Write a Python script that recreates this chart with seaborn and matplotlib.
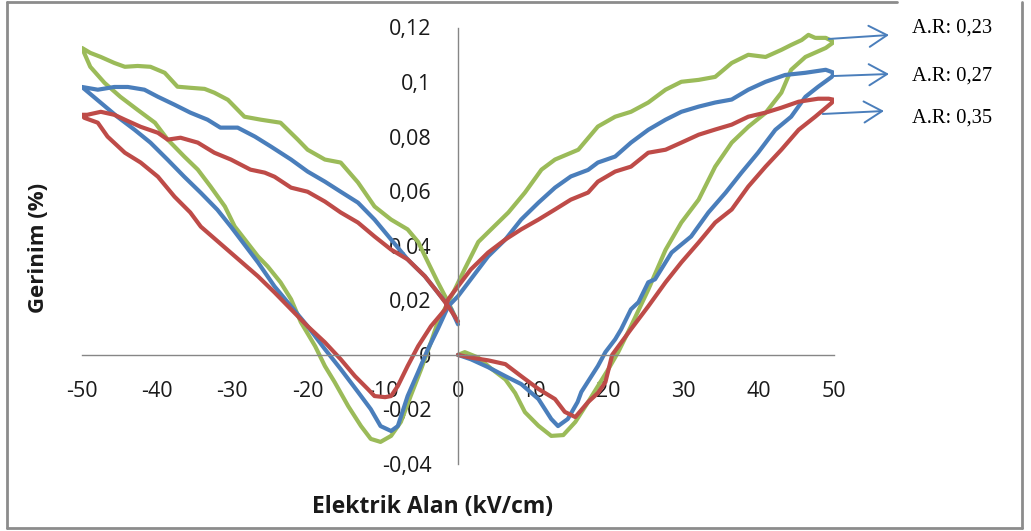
import matplotlib
matplotlib.use("Agg")
import matplotlib.pyplot as plt
from matplotlib.lines import Line2D
import seaborn as sns
import pandas as pd

# ---------------- data (E in kV/cm, strain in %) ----------------
green_E = [0, 0.9, 2.7, 4.4, 6.3, 7.6, 8.9, 10.7, 12.4, 14.0, 15.6, 17.3, 20.0, 21.3, 23.0, 25.3,
           27.6, 29.7, 32.0, 34.2, 36.4, 38.6, 40.9, 43.0, 44.3, 46.2, 48.9, 50.0,
           48.9, 47.5, 46.6, 45.7, 44.3, 43.0, 40.9, 38.6, 36.4, 34.2, 32.0, 29.7, 27.6, 25.3,
           23.0, 20.9, 18.6, 16.0, 12.9, 11.1, 8.9, 6.7, 4.4, 2.7, 0.9, -0.4, -1.3,
           -2.7, -3.6, -4.9, -6.3, -7.6, -8.9, -10.3, -11.6, -12.9, -14.6, -16.4, -17.7, -19.0,
           -20.9, -22.2, -23.6, -25.3, -26.6, -29.7, -31.0, -32.9, -34.6, -36.4, -38.6, -40.3,
           -42.6, -44.9, -47.0, -48.9, -50.0,
           -48.9, -47.5, -45.7, -44.3, -42.6, -40.9, -39.0, -37.3, -35.6, -33.7, -32.4, -30.6,
           -28.4, -26.2, -23.6, -21.3, -20.0, -17.7, -15.6, -13.3, -11.1, -8.9, -6.7, -5.3,
           -4.0, -2.7, -1.3, -0.4]
green_S = [0.000, 0.001, -0.001, -0.005, -0.009, -0.014, -0.021, -0.026, -0.0297, -0.0294,
           -0.0246, -0.0173, -0.0052, 0.001, 0.0105, 0.0239, 0.0385, 0.0485, 0.0569, 0.0690,
           0.0778, 0.0836, 0.0887, 0.0961, 0.1045, 0.1092, 0.1125, 0.1147,
           0.1162, 0.1162, 0.1173, 0.1154, 0.1136, 0.1118, 0.1092, 0.1100, 0.1070, 0.1019,
           0.1008, 0.1001, 0.0972, 0.0925, 0.0891, 0.0873, 0.0837, 0.0752, 0.0716, 0.0679,
           0.0595, 0.0522, 0.0460, 0.0414, 0.0315, 0.0241, 0.0193,
           0.0119, 0.0046, -0.0052, -0.0151, -0.0246, -0.0297, -0.0319, -0.0308, -0.0261,
           -0.0188, -0.0100, -0.0041, 0.0032, 0.0120, 0.0204, 0.0266, 0.0324, 0.0361, 0.0471,
           0.0544, 0.0617, 0.0679, 0.0727, 0.0789, 0.0851, 0.0898, 0.0946, 0.0997, 0.1056,
           0.1125,
           0.1107, 0.1092, 0.1070, 0.1056, 0.1059, 0.1056, 0.1034, 0.0983, 0.0979, 0.0975,
           0.0961, 0.0935, 0.0873, 0.0862, 0.0851, 0.0789, 0.0752, 0.0716, 0.0705, 0.0632,
           0.0544, 0.0496, 0.0460, 0.0414, 0.0340, 0.0267, 0.0193, 0.0141]

blue_E = [0, 1.7, 4.0, 6.3, 8.4, 10.7, 12.4, 13.3, 14.6, 15.9, 16.4, 18.6, 19.6, 20.9, 21.7,
          23.0, 24.0, 25.3, 26.2, 28.4, 31.0, 33.3, 35.6, 37.7, 39.9, 42.2, 44.3, 46.2, 47.9,
          49.7, 50.0,
          48.9, 46.2, 43.5, 40.9, 38.6, 36.4, 34.2, 32.0, 29.7, 27.6, 25.3, 23.0, 20.9, 18.6,
          17.3, 15.0, 12.9, 10.7, 8.4, 6.3, 4.0, 1.7, 0.0, -1.3,
          -2.7, -4.0, -5.3, -6.7, -8.0, -8.9, -10.3, -11.6, -13.3, -15.6, -17.7, -20.0, -22.2,
          -24.4, -26.6, -30.2, -32.0, -34.2, -36.4, -38.6, -40.9, -43.0, -45.3, -47.5, -50.0,
          -47.9, -45.7, -43.9, -41.7, -39.9, -37.7, -35.6, -33.3, -31.6, -29.3, -27.0, -24.9,
          -22.2, -20.0, -17.7, -15.6, -13.3, -11.1, -8.9, -6.7, -4.4, -2.7, -0.9, 0.0]
blue_S = [0.000, -0.0016, -0.0045, -0.0078, -0.0107, -0.0162, -0.0235, -0.0261, -0.0235,
          -0.0173, -0.0136, -0.0041, 0.001, 0.0057, 0.0094, 0.0167, 0.0193, 0.0266, 0.0277,
          0.0375, 0.0434, 0.0522, 0.0595, 0.0668, 0.0741, 0.0825, 0.0873, 0.0946, 0.0983,
          0.1019, 0.1034,
          0.1045, 0.1034, 0.1026, 0.1001, 0.0972, 0.0936, 0.0925, 0.0910, 0.0891, 0.0862,
          0.0825, 0.0778, 0.0727, 0.0705, 0.0678, 0.0654, 0.0613, 0.0558, 0.0496, 0.0423,
          0.0361, 0.0277, 0.0215, 0.0178,
          0.0094, 0.0021, -0.0063, -0.0151, -0.0261, -0.0279, -0.0261, -0.0199, -0.0136,
          -0.0052, 0.0021, 0.0105, 0.0178, 0.0251, 0.0339, 0.0470, 0.0532, 0.0594, 0.0653,
          0.0715, 0.0778, 0.0825, 0.0873, 0.0924, 0.0982,
          0.0972, 0.0982, 0.0982, 0.0972, 0.0946, 0.0917, 0.0888, 0.0862, 0.0833, 0.0833,
          0.0800, 0.0764, 0.0716, 0.0672, 0.0635, 0.0598, 0.0558, 0.0496, 0.0423, 0.0350,
          0.0288, 0.0229, 0.0167, 0.0112]

red_E = [0, 1.7, 4.0, 6.3, 8.4, 10.7, 12.9, 14.2, 15.6, 17.3, 18.6, 19.6, 20.5, 23.0, 25.3,
         27.6, 29.7, 32.0, 34.2, 36.4, 38.6, 40.9, 43.0, 45.3, 47.5, 49.7, 50.0,
         49.3, 47.9, 45.3, 43.0, 40.9, 38.6, 36.4, 34.2, 32.0, 29.7, 27.6, 25.3, 23.0, 20.9,
         18.6, 17.3, 15.0, 12.9, 10.7, 8.4, 6.3, 4.0, 1.7, 0.0, -1.3,
         -1.7, -3.6, -5.3, -6.7, -8.0, -8.9, -9.7, -11.1, -12.0, -13.7, -15.6, -17.7, -20.0,
         -22.2, -24.4, -26.6, -30.4, -34.2, -35.6, -37.7, -39.9, -42.2, -44.3, -46.6, -47.9,
         -49.7, -50.0,
         -49.3, -47.5, -45.7, -44.3, -42.2, -39.9, -38.6, -36.9, -34.6, -32.4, -30.2, -27.6,
         -25.7, -24.4, -22.2, -20.0, -17.7, -15.6, -13.3, -11.1, -8.9, -6.7, -4.4, -2.7, -1.3,
         0.0]
red_S = [0.000, -0.001, -0.002, -0.0034, -0.0078, -0.0125, -0.0162, -0.0209, -0.0228,
         -0.0173, -0.0140, -0.0100, 0.000, 0.0094, 0.0178, 0.0266, 0.0339, 0.0412, 0.0485,
         0.0533, 0.0617, 0.0690, 0.0752, 0.0825, 0.0873, 0.0924, 0.0935,
         0.0939, 0.0939, 0.0928, 0.0906, 0.0888, 0.0873, 0.0844, 0.0826, 0.0807, 0.0778,
         0.0752, 0.0741, 0.0690, 0.0672, 0.0635, 0.0595, 0.0569, 0.0533, 0.0496, 0.0460,
         0.0423, 0.0375, 0.0313, 0.0251, 0.0204,
         0.0167, 0.0105, 0.0032, -0.0041, -0.0114, -0.0151, -0.0155, -0.0151, -0.0125,
         -0.0078, -0.0016, 0.0046, 0.0105, 0.0167, 0.0229, 0.0288, 0.0379, 0.0470, 0.0522,
         0.0580, 0.0653, 0.0705, 0.0741, 0.0800, 0.0851, 0.0869, 0.0880,
         0.0880, 0.0891, 0.0880, 0.0862, 0.0836, 0.0814, 0.0789, 0.0796, 0.0778, 0.0741,
         0.0716, 0.0679, 0.0668, 0.0653, 0.0613, 0.0598, 0.0562, 0.0522, 0.0485, 0.0434,
         0.0386, 0.0350, 0.0288, 0.0229, 0.0178, 0.0123]

series_names = ["A.R: 0,23", "A.R: 0,27", "A.R: 0,35"]
series_colors = ["#9BBB59", "#4A7EBB", "#BE4B48"]

x_ticks = [-50, -40, -30, -20, -10, 0, 10, 20, 30, 40, 50]
x_tick_labels = ["-50", "-40", "-30", "-20", "-10", "0", "10", "20", "30", "40", "50"]
y_ticks = [-0.04, -0.02, 0, 0.02, 0.04, 0.06, 0.08, 0.10, 0.12]
y_tick_labels = ["-0,04", "-0,02", "0", "0,02", "0,04", "0,06", "0,08", "0,1", "0,12"]

x_label = "Elektrik Alan (kV/cm)"
y_label = "Gerinim (%)"

# ---------------- build frame ----------------
frames = []
for name, E, S in zip(series_names, [green_E, blue_E, red_E], [green_S, blue_S, red_S]):
    frames.append(pd.DataFrame({"E": E, "S": S, "series": name}))
df = pd.concat(frames, ignore_index=True)

sns.set_style("white")
plt.rcParams["font.family"] = ["Open Sans", "DejaVu Sans"]

W, H = 1031, 531
fig = plt.figure(figsize=(W / 100, H / 100), dpi=100)
ax = fig.add_axes([82 / W, 1 - 464 / H, (834 - 82) / W, (464 - 27.5) / H])

sns.lineplot(data=df, x="E", y="S", hue="series", palette=dict(zip(series_names, series_colors)),
             sort=False, estimator=None, linewidth=3.0, legend=False, ax=ax)

ax.set_xlim(-50, 50)
ax.set_ylim(-0.04, 0.12)
ax.set_xlabel("")
ax.set_ylabel("")

axis_gray = "#868686"
for side in ["top", "right"]:
    ax.spines[side].set_visible(False)
ax.spines["left"].set_position(("data", 0))
ax.spines["bottom"].set_position(("data", 0))
for side in ["left", "bottom"]:
    ax.spines[side].set_color(axis_gray)
    ax.spines[side].set_linewidth(1.0)

ax.set_xticks(x_ticks)
ax.set_xticklabels(x_tick_labels)
ax.set_yticks(y_ticks)
ax.set_yticklabels(y_tick_labels)
ax.tick_params(axis="both", direction="out", length=7, width=1.0, color=axis_gray,
               labelsize=15.5, labelcolor="#1a1a1a")
ax.tick_params(axis="x", pad=12)
ax.tick_params(axis="y", pad=12)
ax.set_facecolor("none")

# axis titles
fig.text(433 / W, 1 - 507 / H, x_label, ha="center", va="center", fontsize=16.5,
         fontweight="bold", color="#1a1a1a")
fig.text(39 / W, 1 - 248 / H, y_label, ha="center", va="center", fontsize=16,
         fontweight="bold", rotation=90, color="#1a1a1a")

# arrows + annotations
arrow_color = "#4A7EBB"
arrow_specs = [((49.3, 0.1158), (889 / W, 1 - 35 / H), (912 / W, 1 - 33 / H)),
               ((49.8, 0.1022), (889 / W, 1 - 74 / H), (912 / W, 1 - 81 / H)),
               ((48.5, 0.0883), (884 / W, 1 - 111 / H), (912 / W, 1 - 123 / H))]
for name, (start, tip, txt) in zip(series_names, arrow_specs):
    ax.annotate("", xy=tip, xycoords="figure fraction", xytext=start, textcoords="data",
                arrowprops=dict(arrowstyle="->,head_length=0.65,head_width=0.38",
                                color=arrow_color, lw=1.4, mutation_scale=20,
                                shrinkA=0, shrinkB=0),
                annotation_clip=False)
    fig.text(txt[0], txt[1], name, ha="left", va="baseline", fontsize=14.8,
             family=["Liberation Serif", "DejaVu Serif"], color="#000000")

# outer frame
frame_gray = "#8c8c8c"
frame_lines = [((7, 7), (2, 528)), ((7, 1022), (528, 528)), ((1022, 1022), (528, 2)),
               ((7, 897), (2, 2))]
for xs, ys in frame_lines:
    fig.add_artist(Line2D([x / W for x in xs], [1 - y / H for y in ys], color=frame_gray,
                          lw=2.0, transform=fig.transFigure))

fig.savefig("out.png", dpi=100)
